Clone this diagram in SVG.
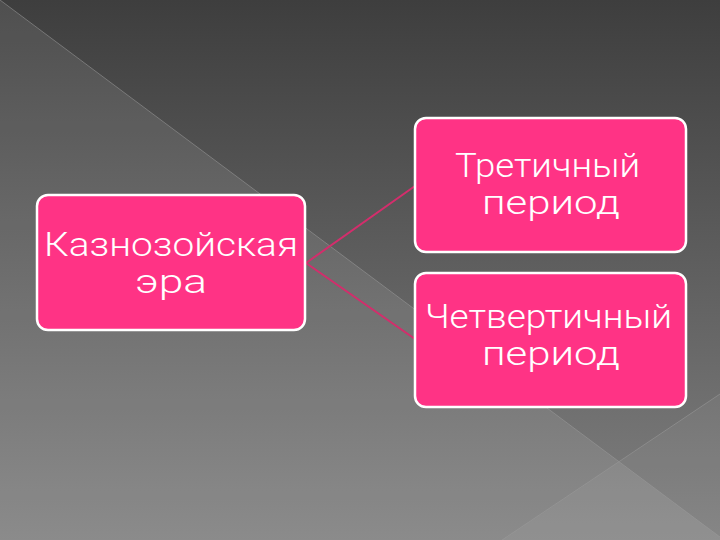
<svg xmlns="http://www.w3.org/2000/svg" width="720" height="540" viewBox="0 0 720 540">
  <defs>
    <linearGradient id="bg" x1="0" y1="0" x2="0" y2="1">
      <stop offset="0" stop-color="#3e3e3e"/>
      <stop offset="1" stop-color="#808080"/>
    </linearGradient>
    <style>
      .box { fill: #ff3385; stroke: #ffffff; stroke-width: 2.5; }
      .lbl { font-family: "Roboto", "Inter", "Open Sans", "DejaVu Sans", sans-serif; font-weight: 300; font-size: 34px; fill: #ffffff; }
      .conn { stroke: #d42d6c; stroke-width: 2; fill: none; }
      .deco { stroke: #9a9a9a; stroke-opacity: 0.55; stroke-width: 1; fill: none; }
    </style>
  </defs>
  <g id="background">
    <rect x="0" y="0" width="720" height="540" fill="url(#bg)"/>
    <polygon points="0,0 720,537 720,540 0,540" fill="#ffffff" fill-opacity="0.09"/>
    <polygon points="502,540 720,394 720,540" fill="#ffffff" fill-opacity="0.05"/>
    <line class="deco" x1="0" y1="0" x2="720" y2="537"/>
    <line class="deco" x1="502" y1="540" x2="720" y2="394"/>
  </g>
  <g id="connectors">
    <line class="conn" x1="306" y1="263" x2="415" y2="186"/>
    <line class="conn" x1="306" y1="263" x2="415" y2="339"/>
  </g>
  <g id="node-era">
    <rect class="box" x="37" y="195" width="268" height="135" rx="11"/>
    <text class="lbl" x="44" y="256" textLength="254" lengthAdjust="spacingAndGlyphs">Казнозойская</text>
    <text class="lbl" x="135" y="293" textLength="72" lengthAdjust="spacingAndGlyphs">эра</text>
  </g>
  <g id="node-tertiary">
    <rect class="box" x="415" y="118" width="271" height="134" rx="11"/>
    <text class="lbl" x="455" y="177" textLength="185" lengthAdjust="spacingAndGlyphs">Третичный</text>
    <text class="lbl" x="482" y="214" textLength="138" lengthAdjust="spacingAndGlyphs">период</text>
  </g>
  <g id="node-quaternary">
    <rect class="box" x="415" y="273" width="271" height="134" rx="11"/>
    <text class="lbl" x="425" y="328" textLength="247" lengthAdjust="spacingAndGlyphs">Четвертичный</text>
    <text class="lbl" x="482" y="365" textLength="138" lengthAdjust="spacingAndGlyphs">период</text>
  </g>
</svg>
